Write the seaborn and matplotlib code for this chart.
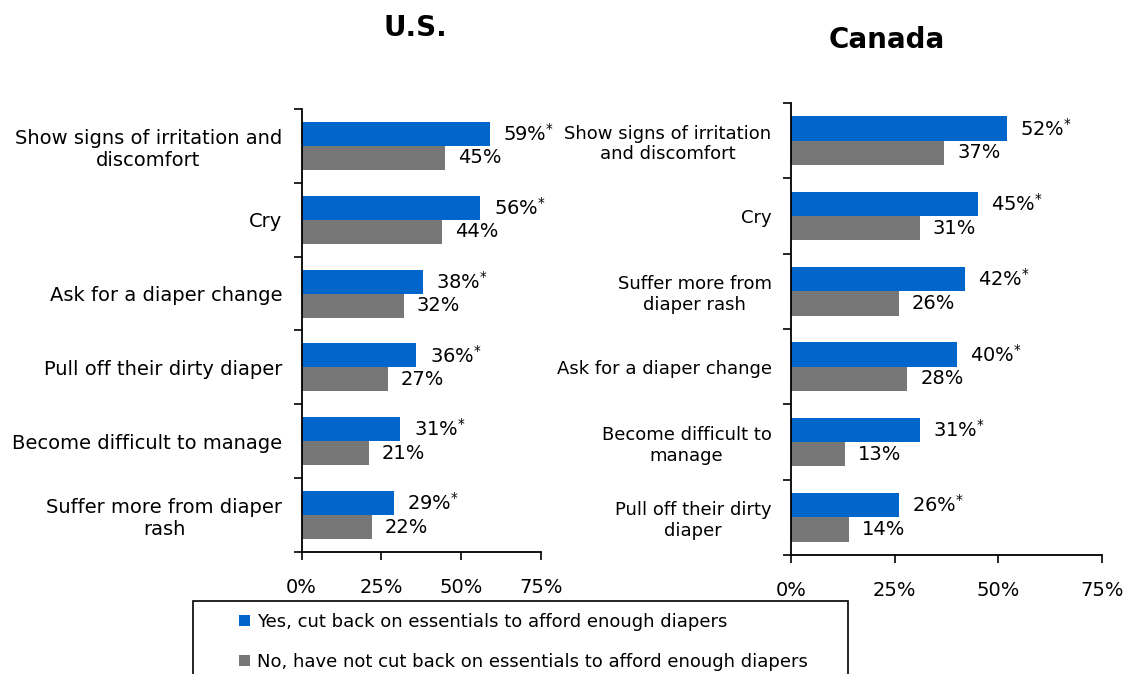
import numpy as np
import pandas as pd
import matplotlib
matplotlib.use("Agg")
import matplotlib.pyplot as plt
import seaborn as sns
from matplotlib.patches import Patch, Rectangle

# ---------------- data ----------------
us_categories = [
    "Show signs of irritation and\ndiscomfort",
    "Cry",
    "Ask for a diaper change",
    "Pull off their dirty diaper",
    "Become difficult to manage",
    "Suffer more from diaper\nrash",
]
us_yes = [59, 56, 38, 36, 31, 29]
us_no = [45, 44, 32, 27, 21, 22]

ca_categories = [
    "Show signs of irritation\nand discomfort",
    "Cry",
    "Suffer more from\ndiaper rash",
    "Ask for a diaper change",
    "Become difficult to\nmanage",
    "Pull off their dirty\ndiaper",
]
ca_yes = [52, 45, 42, 40, 31, 26]
ca_no = [37, 31, 26, 28, 13, 14]

series = [
    "Yes, cut back on essentials to afford enough diapers",
    "No, have not cut back on essentials to afford enough diapers",
]
panel_titles = ["U.S.", "Canada"]
x_ticks = [0, 25, 50, 75]
x_tick_labels = ["0%", "25%", "50%", "75%"]
colors = ["#0066CC", "#777777"]

# ---------------- style ----------------
sns.set_style("white")
plt.rcParams["font.family"] = ["DejaVu Sans"]
plt.rcParams["text.color"] = "black"
plt.rcParams["xtick.color"] = "black"
plt.rcParams["ytick.color"] = "black"
plt.rcParams["axes.labelcolor"] = "black"

W, H = 1130, 674
fig = plt.figure(figsize=(W / 100, H / 100), dpi=100)
ax1 = fig.add_axes([301.5 / W, 1 - 552 / H, 239.5 / W, 443 / H])
ax2 = fig.add_axes([791 / W, 1 - 555 / H, 311 / W, 452 / H])

FS = 14


def draw(ax, cats, yes, no, cat_fs):
    df = pd.DataFrame({
        "cat": cats * 2,
        "val": yes + no,
        "grp": [series[0]] * len(cats) + [series[1]] * len(cats),
    })
    sns.barplot(data=df, y="cat", x="val", hue="grp", order=cats,
                hue_order=series, palette=colors, width=0.65, saturation=1,
                orient="h", ax=ax, legend=False, errorbar=None, linewidth=0)
    # value labels
    for ci, cont in enumerate(ax.containers):
        for bar in cont:
            w = bar.get_width()
            yc = bar.get_y() + bar.get_height() / 2
            txt = f"{w:.0f}%" + (r"$^{*}$" if ci == 0 else "")
            ax.annotate(txt, xy=(w, yc), xytext=(9.5, 0),
                        textcoords="offset points", ha="left", va="center",
                        fontsize=FS, color="black")
    ax.set_xlim(0, 75)
    ax.set_ylim(len(cats) - 0.5, -0.5)
    ax.set_xticks(x_ticks)
    ax.set_xticklabels(x_tick_labels, fontsize=FS)
    ax.set_yticks(range(len(cats)))
    ax.set_yticklabels(cats, fontsize=cat_fs, multialignment="center")
    ax.set_yticks(np.arange(-0.5, len(cats), 1), minor=True)
    ax.tick_params(axis="y", which="major", length=0, pad=14, left=True)
    ax.tick_params(axis="y", which="minor", length=6, width=1.2,
                   direction="out", left=True, color="black")
    ax.tick_params(axis="x", which="major", length=6, width=1.2,
                   direction="out", bottom=True, pad=13, color="black")
    ax.set_xlabel("")
    ax.set_ylabel("")
    for s in ["top", "right"]:
        ax.spines[s].set_visible(False)
    for s in ["left", "bottom"]:
        ax.spines[s].set_color("black")
        ax.spines[s].set_linewidth(1.3)
    ax.grid(False)


draw(ax1, us_categories, us_yes, us_no, 14)
draw(ax2, ca_categories, ca_yes, ca_no, 13)

fig.text(415 / W, 1 - 28 / H, panel_titles[0], ha="center", va="center",
         fontsize=20, fontweight="bold", color="black")
fig.text(887 / W, 1 - 40 / H, panel_titles[1], ha="center", va="center",
         fontsize=20, fontweight="bold", color="black")

# legend box (bottom edge runs off the figure as in the reference)
box = Rectangle((193 / W, -0.05), (848 - 193) / W, (1 - 601 / H) + 0.05,
                transform=fig.transFigure, fill=False, edgecolor="black",
                linewidth=1.2, clip_on=False)
fig.add_artist(box)
handles = [Patch(facecolor=c, edgecolor="none", label=s)
           for c, s in zip(colors, series)]
fig.legend(handles=handles, loc="upper left",
           bbox_to_anchor=(239 / W, 1 - 613 / H), frameon=False,
           handlelength=0.6, handleheight=0.6, handletextpad=0.4,
           labelspacing=1.2, fontsize=13, borderpad=0, borderaxespad=0)

fig.savefig("out.png", dpi=100)
